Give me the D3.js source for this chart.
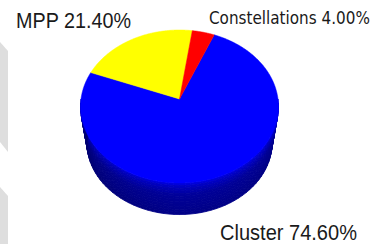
<!DOCTYPE html>
<html>
<head>
<meta charset="utf-8">
<script src="https://cdn.jsdelivr.net/npm/d3@7"></script>
<style>
  html, body { margin: 0; padding: 0; background: #ffffff; }
  svg { display: block; }
</style>
</head>
<body>
<div id="chart"></div>
<script>
// ---- data ----
const categories = ["Cluster", "MPP", "Constellations"];
const values = [74.6, 21.4, 4.0];
const colors = ["#0000ff", "#ffff00", "#ff0000"];

// ---- layout ----
const W = 375, H = 244;
const CX = 179.5, CY = 99;      // projected centre of top face
const A = 98.5;                 // horizontal radius factor
const G = 0.098, D = -66.06;    // perspective terms
const S = 0.935, BY = 136;      // bottom face scale / centre y
const startDeg = 22.6;

const svg = d3.select("#chart").append("svg")
  .attr("width", W).attr("height", H);

// faint background stripes at left edge (decoration)
const stripes = [
  [[0, 42], [8, 51], [8, 152], [0, 142]],
  [[0, 187], [8, 196], [8, 244], [0, 244]]
];
svg.append("g").selectAll("path").data(stripes).join("path")
  .attr("d", d => d3.line()(d) + "Z")
  .attr("fill", "#dedede");

const color = d3.scaleOrdinal().domain(categories).range(colors);

const pie = d3.pie().sort(null)
  .startAngle(startDeg * Math.PI / 180)
  .endAngle(startDeg * Math.PI / 180 + 2 * Math.PI);
const arcs = pie(values).map((d, i) => ({ ...d, name: categories[i] }));

function P(theta, level) {
  const u = Math.sin(theta), v = Math.cos(theta);
  const den = 1 + G * v;
  const xt = A * u / den;
  const yt = (D * v + CY) / den - CY;
  const top = [CX + xt, CY + yt];
  const bot = [CX + S * xt, BY + S * yt];
  return [top[0] + (bot[0] - top[0]) * level, top[1] + (bot[1] - top[1]) * level];
}
function sample(a0, a1, stepDeg) {
  const n = Math.max(1, Math.ceil(Math.abs(a1 - a0) / (stepDeg * Math.PI / 180)));
  return d3.range(n + 1).map(k => a0 + (a1 - a0) * k / n);
}

// ---- side wall (shaded cells) ----
const fronts = [[Math.PI / 2, 3 * Math.PI / 2], [Math.PI / 2 + 2 * Math.PI, 3 * Math.PI / 2 + 2 * Math.PI]];
const levels = d3.range(0, 1.0001, 1 / 12);
const vShade = d3.scaleLinear().domain([0, 0.15, 0.4, 1]).range([0.9, 0.74, 0.6, 0.53]);
const hShade = d3.scaleLinear().domain([Math.PI / 2, Math.PI, 1.5 * Math.PI]).range([0.95, 1.0, 0.8]);
const cells = [];
arcs.forEach(d => {
  fronts.forEach(([f0, f1]) => {
    const a0 = Math.max(d.startAngle, f0), a1 = Math.min(d.endAngle, f1);
    if (a1 <= a0) return;
    const ts = sample(a0, a1, 3);
    for (let i = 0; i < ts.length - 1; i++) {
      for (let j = 0; j < levels.length - 1; j++) {
        const t0 = ts[i], t1 = ts[i + 1], l0 = levels[j], l1 = levels[j + 1];
        const tm = ((t0 + t1) / 2) % (2 * Math.PI);
        const f = vShade((l0 + l1) / 2) * hShade(tm);
        const c = d3.rgb(color(d.name));
        const fill = d3.rgb(c.r * f, c.g * f, c.b * f).formatHex();
        cells.push({ pts: [P(t0, l0), P(t1, l0), P(t1, l1), P(t0, l1)], fill });
      }
    }
  });
});
svg.append("g").selectAll("path").data(cells).join("path")
  .attr("d", d => d3.line()(d.pts) + "Z")
  .attr("fill", d => d.fill)
  .attr("stroke", d => d.fill)
  .attr("stroke-width", 0.8)
  .attr("stroke-linejoin", "round");

// ---- top face ----
svg.append("g").selectAll("path.top").data(arcs).join("path")
  .attr("class", "top")
  .attr("d", d => {
    const pts = [[CX, CY]].concat(sample(d.startAngle, d.endAngle, 0.5).map(t => P(t, 0)));
    return d3.line()(pts) + "Z";
  })
  .attr("fill", d => color(d.name))
  .attr("stroke", d => color(d.name))
  .attr("stroke-width", 0.5)
  .attr("stroke-linejoin", "round");

// ---- labels (narrowed horizontally like the reference) ----
const labelPos = {
  "MPP": { x: 16, y: 27.5, size: 22, len: 115, font: "'Liberation Sans', Arial, sans-serif" },
  "Constellations": { x: 209, y: 23.5, size: 17.5, len: 161, font: "'DejaVu Sans', sans-serif" },
  "Cluster": { x: 220, y: 240, size: 22.5, len: 137, font: "'Liberation Sans', Arial, sans-serif" }
};
svg.append("g").selectAll("text").data(arcs).join("text")
  .attr("x", 0)
  .attr("y", 0)
  .attr("font-family", d => labelPos[d.name].font)
  .attr("font-size", d => labelPos[d.name].size)
  .attr("fill", "#1a1a1a")
  .text(d => `${d.name} ${d.data.toFixed(2)}%`)
  .each(function (d) {
    const p = labelPos[d.name];
    const natural = this.getComputedTextLength();
    const k = natural > 0 ? p.len / natural : 1;
    d3.select(this).attr("transform", `translate(${p.x},${p.y}) scale(${k},1)`);
  });
</script>
</body>
</html>
